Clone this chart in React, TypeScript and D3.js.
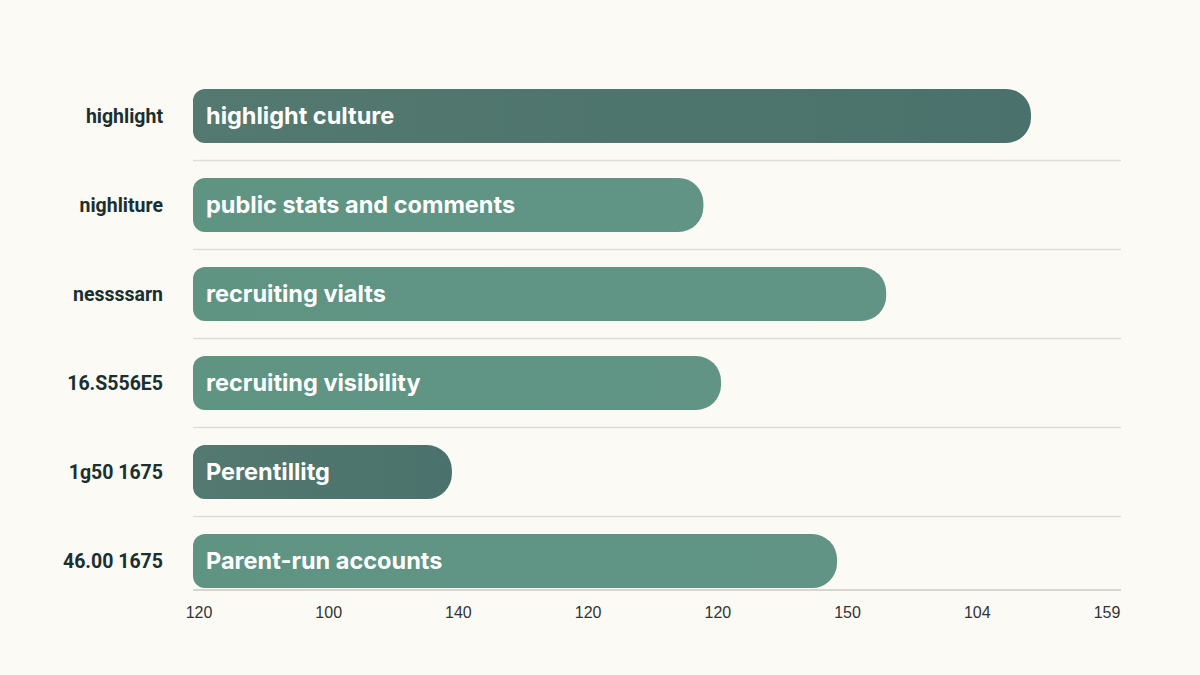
import React, { useRef, useEffect } from 'react';
import * as d3 from 'd3';

// rows, top to bottom
const ROW_LABELS = ['highlight', 'nighliture', 'nessssarn', '16.S556E5', '1g50 1675', '46.00 1675'];
const BAR_LABELS = ['highlight culture', 'public stats and comments', 'recruiting vialts', 'recruiting visibility', 'Perentillitg', 'Parent-run accounts'];
const VALUES = [90.3, 55.0, 74.7, 56.9, 27.9, 69.4];
const DARK = [true, false, false, false, true, false];
const TICK_LABELS = ['120', '100', '140', '120', '120', '150', '104', '159'];

const W = 1200;
const H = 675;

// bar with small radius on the left and near-pill radius on the right
function barPath(x0: number, x1: number, y: number, h: number, rl: number, rr: number) {
  const p = d3.path();
  p.moveTo(x0 + rl, y);
  p.lineTo(x1 - rr, y);
  p.arcTo(x1, y, x1, y + rr, rr);
  p.lineTo(x1, y + h - rr);
  p.arcTo(x1, y + h, x1 - rr, y + h, rr);
  p.lineTo(x0 + rl, y + h);
  p.arcTo(x0, y + h, x0, y + h - rl, rl);
  p.lineTo(x0, y + rl);
  p.arcTo(x0, y, x0 + rl, y, rl);
  p.closePath();
  return p.toString();
}

export default function App() {
  const svgRef = useRef<SVGSVGElement>(null);

  useEffect(() => {
    if (!svgRef.current) return;
    const svg = d3.select(svgRef.current);
    svg.selectAll('*').remove();

    const left = 193;
    const right = 1121;
    const axisY = 590;

    const x = d3.scaleLinear().domain([0, 100]).range([left, right]);
    const y = d3.scaleBand<number>().domain(d3.range(ROW_LABELS.length)).range([71.5, 605.5]).paddingInner(0.393).paddingOuter(0.196);
    const tx = d3.scalePoint<number>().domain(d3.range(TICK_LABELS.length)).range([199, 1107]);

    svg.append('rect').attr('width', W).attr('height', H).attr('fill', '#fbfaf5');

    const defs = svg.append('defs');
    const mk = (id: string, c0: string, c1: string) => {
      const g = defs.append('linearGradient').attr('id', id).attr('x1', '0').attr('x2', '1').attr('y1', '0').attr('y2', '0');
      g.append('stop').attr('offset', '0%').attr('stop-color', c0);
      g.append('stop').attr('offset', '100%').attr('stop-color', c1);
    };
    mk('gDark', '#537970', '#4a716b');
    mk('gLight', '#5f9483', '#619485');

    const g = svg.append('g');

    // gridlines between rows
    const step = y.step();
    d3.range(ROW_LABELS.length - 1).forEach(i => {
      const gy = (y(i) as number) + y.bandwidth() / 2 + step / 2;
      g.append('line').attr('x1', left).attr('x2', right).attr('y1', gy).attr('y2', gy)
        .attr('stroke', '#e0ddd6').attr('stroke-width', 1.5);
    });

    g.append('line').attr('x1', left).attr('x2', right).attr('y1', axisY).attr('y2', axisY)
      .attr('stroke', '#cbc8c1').attr('stroke-width', 1.5);

    VALUES.forEach((v, i) => {
      const by = y(i) as number;
      const bh = y.bandwidth();
      g.append('path')
        .attr('d', barPath(x(0), x(v), by, bh, 12, 25))
        .attr('fill', DARK[i] ? 'url(#gDark)' : 'url(#gLight)');

      g.append('text')
        .attr('x', x(0) + 13).attr('y', by + bh / 2).attr('dy', '0.35em')
        .attr('fill', '#ffffff').attr('font-family', 'Inter, Roboto, sans-serif')
        .attr('font-weight', 700).attr('font-size', 23.5)
        .text(BAR_LABELS[i]);

      g.append('text')
        .attr('x', 163).attr('y', by + bh / 2).attr('dy', '0.35em')
        .attr('text-anchor', 'end')
        .attr('fill', '#1a2f30').attr('font-family', 'Roboto, Inter, sans-serif')
        .attr('font-weight', 700).attr('font-size', 19.5)
        .text(ROW_LABELS[i]);
    });

    TICK_LABELS.forEach((t, i) => {
      g.append('text')
        .attr('x', tx(i) as number).attr('y', 612).attr('dy', '0.35em')
        .attr('text-anchor', 'middle')
        .attr('fill', '#333333').attr('font-family', '"Liberation Sans", Arial, sans-serif')
        .attr('font-size', 16)
        .text(t);
    });
  }, []);

  return (
    <div style={{ position: 'fixed', left: 0, top: 0, width: W, height: H }}>
      <svg ref={svgRef} width={W} height={H} style={{ display: 'block' }} />
    </div>
  );
}
